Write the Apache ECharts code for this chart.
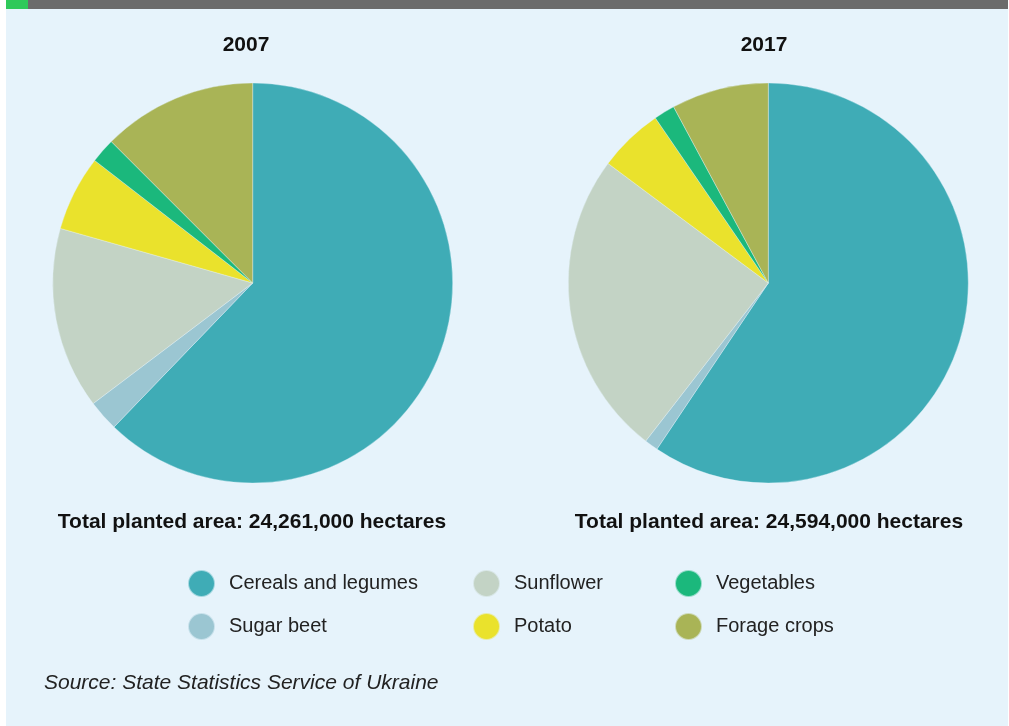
<!DOCTYPE html>
<html>
<head>
<meta charset="utf-8">
<title>Planted area in Ukraine, 2007 and 2017</title>
<script src="https://cdn.jsdelivr.net/npm/echarts@6/dist/echarts.min.js"></script>
<style>
  html, body { margin: 0; padding: 0; background: #ffffff; }
  #chart { width: 1009px; height: 726px; }
</style>
</head>
<body>
<div id="chart"></div>
<script>
// Crop groups and their colours
const crops = ['Cereals and legumes', 'Sugar beet', 'Sunflower', 'Potato', 'Vegetables', 'Forage crops'];
const cropColors = ['#3facb6', '#9bc6d2', '#c3d3c5', '#eae22c', '#1bb87c', '#a9b456'];

// Share of total planted area, %
const share2007 = [62.2, 2.5, 14.7, 6.1, 2.0, 12.5];
const share2017 = [59.4, 1.1, 24.7, 5.25, 1.7, 7.85];

const years = ['2007', '2017'];
const totals = ['Total planted area: 24,261,000 hectares', 'Total planted area: 24,594,000 hectares'];

const chart = echarts.init(document.getElementById('chart'), null, { renderer: 'canvas' });

const textFont = '"Liberation Sans", Arial, sans-serif';

function pieSeries(name, values, cx) {
  return {
    name: name,
    type: 'pie',
    center: [cx, 283],
    radius: [0, 200],
    startAngle: 90,
    clockwise: true,
    label: { show: false },
    labelLine: { show: false },
    emphasis: { disabled: true },
    itemStyle: { borderColor: 'rgba(230,243,251,0.6)', borderWidth: 0.6 },
    data: crops.map((c, i) => ({ name: c, value: values[i], itemStyle: { color: cropColors[i] } }))
  };
}

function legendColumn(names, left) {
  return {
    orient: 'vertical',
    left: left,
    top: 569,
    padding: 0,
    icon: 'circle',
    itemWidth: 27,
    itemHeight: 27,
    itemGap: 14,
    selectedMode: false,
    data: names,
    textStyle: {
      fontFamily: textFont,
      fontSize: 20,
      color: '#222222',
      padding: [0, 0, 0, 9]
    }
  };
}

function heading(text, x, y, size) {
  return {
    text: text, left: x, top: y, textAlign: 'center', padding: 0,
    textStyle: { fontFamily: textFont, fontWeight: 'bold', fontSize: size, color: '#111111' }
  };
}

chart.setOption({
  backgroundColor: '#ffffff',
  animation: false,
  graphic: [
    { type: 'rect', shape: { x: 6, y: 0, width: 1002, height: 726 }, style: { fill: '#e6f3fb' }, z: -10 },
    { type: 'rect', shape: { x: 6, y: 0, width: 1002, height: 9 }, style: { fill: '#6b6b6b' }, z: -5 },
    { type: 'rect', shape: { x: 6, y: 0, width: 22, height: 9 }, style: { fill: '#2fc95a' }, z: -4 },
    {
      type: 'text', left: 44, top: 673,
      style: {
        text: 'Source: State Statistics Service of Ukraine',
        font: 'italic 21px "Liberation Sans", Arial, sans-serif',
        fill: '#222222'
      }
    }
  ],
  title: [
    heading(years[0], 246, 35, 21),
    heading(years[1], 764, 35, 21),
    heading(totals[0], 252, 512, 21),
    heading(totals[1], 769, 512, 21)
  ],
  legend: [
    legendColumn([crops[0], crops[1]], 187),
    legendColumn([crops[2], crops[3]], 472),
    legendColumn([crops[4], crops[5]], 674)
  ],
  series: [
    pieSeries(years[0], share2007, 252.7),
    pieSeries(years[1], share2017, 768.3)
  ]
});
</script>
</body>
</html>
